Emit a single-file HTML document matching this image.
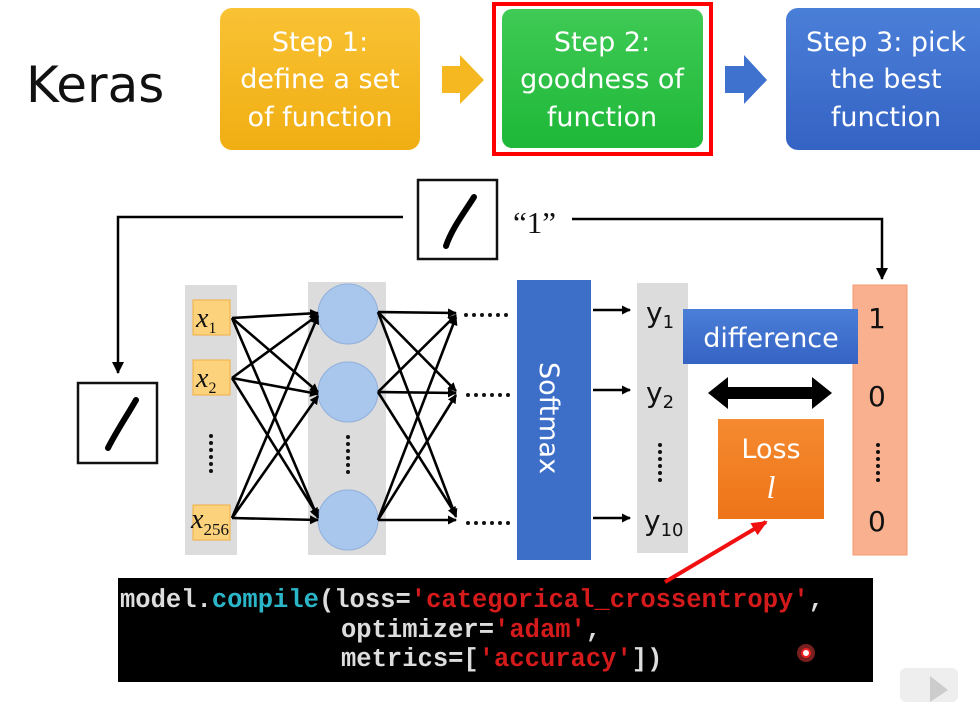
<!DOCTYPE html>
<html><head><meta charset="utf-8"><style>
html,body{margin:0;padding:0;background:#fff;}
svg{display:block;}
.w{font-family:"DejaVu Sans","Liberation Sans",sans-serif;fill:#fff;font-size:27px;text-anchor:middle;}
.m{font-family:"Liberation Mono",monospace;font-size:25.5px;font-weight:bold;}
</style></head><body>
<svg width="980" height="702" viewBox="0 0 980 702" xmlns="http://www.w3.org/2000/svg">
<defs>
<marker id="ah" markerWidth="9" markerHeight="9" refX="8" refY="4.5" orient="auto" markerUnits="userSpaceOnUse">
<path d="M0,0 L9,4.5 L0,9 z" fill="#000"/></marker>
<marker id="ah2" markerWidth="12" markerHeight="12" refX="11" refY="6" orient="auto" markerUnits="userSpaceOnUse">
<path d="M0,0 L12,6 L0,12 z" fill="#000"/></marker>
<marker id="ahr" markerWidth="16" markerHeight="14" refX="14" refY="7" orient="auto" markerUnits="userSpaceOnUse">
<path d="M0,0 L16,7 L0,14 z" fill="#f01010"/></marker>
<linearGradient id="gy" x1="0" y1="0" x2="0" y2="1"><stop offset="0" stop-color="#f9c234"/><stop offset="1" stop-color="#f0ae12"/></linearGradient>
<linearGradient id="gg" x1="0" y1="0" x2="0" y2="1"><stop offset="0" stop-color="#3fca55"/><stop offset="1" stop-color="#1eb838"/></linearGradient>
<linearGradient id="gb" x1="0" y1="0" x2="0" y2="1"><stop offset="0" stop-color="#4a7fd8"/><stop offset="1" stop-color="#3563c4"/></linearGradient>
<linearGradient id="go" x1="0" y1="0" x2="0" y2="1"><stop offset="0" stop-color="#f58a30"/><stop offset="1" stop-color="#ee7418"/></linearGradient>
</defs>

<text x="26" y="102" font-family="DejaVu Sans,Liberation Sans,sans-serif" font-size="50" fill="#111">Keras</text>

<rect x="220" y="8" width="200" height="142" rx="12" fill="url(#gy)"/>
<text class="w" x="320" y="51">Step 1:</text>
<text class="w" x="320" y="88">define a set</text>
<text class="w" x="320" y="126">of function</text>
<path d="M442,66 L460,66 L460,55 L484,80 L460,104 L460,93 L442,93 z" fill="#f5b820"/>

<rect x="494" y="4" width="217" height="150" fill="none" stroke="#f00" stroke-width="4"/>
<rect x="502" y="9" width="201" height="139" rx="10" fill="url(#gg)"/>
<text class="w" x="602" y="51">Step 2:</text>
<text class="w" x="602" y="88">goodness of</text>
<text class="w" x="602" y="126">function</text>
<path d="M725,66 L744,66 L744,55 L767,80 L744,104 L744,93 L725,93 z" fill="#3f72cf"/>

<rect x="786" y="8" width="210" height="142" rx="12" fill="url(#gb)"/>
<text class="w" x="886" y="51">Step 3: pick</text>
<text class="w" x="886" y="88">the best</text>
<text class="w" x="886" y="126">function</text>

<rect x="418" y="180" width="79" height="79" fill="#fff" stroke="#111" stroke-width="2.5"/>
<path d="M474,197 C466,210 452,228 446,246" stroke="#000" stroke-width="6" stroke-linecap="round" fill="none"/>
<text x="513" y="233" font-family="Liberation Serif,serif" font-size="31" fill="#111">“1”</text>
<polyline points="403,217 118,217 118,373" fill="none" stroke="#000" stroke-width="2.5" marker-end="url(#ah2)"/>
<polyline points="572,219 882,219 882,279" fill="none" stroke="#000" stroke-width="2.5" marker-end="url(#ah2)"/>

<rect x="78" y="383" width="79" height="80" fill="#fff" stroke="#111" stroke-width="2.5"/>
<path d="M136,400 C128,414 116,432 108,448" stroke="#000" stroke-width="6" stroke-linecap="round" fill="none"/>

<rect x="185" y="285" width="52" height="270" fill="#dcdcdc"/>
<rect x="308" y="282" width="78" height="273" fill="#dcdcdc"/>
<rect x="637" y="283" width="51" height="270" fill="#dcdcdc"/>
<rect x="853" y="285" width="54" height="270" fill="#f8b08e" stroke="#f29a70" stroke-width="1"/>

<g fill="#fcd27c" stroke="#f0b040" stroke-width="1">
<rect x="193" y="300" width="37" height="35"/>
<rect x="193" y="360" width="37" height="35"/>
<rect x="193" y="505" width="37" height="35"/>
</g>
<g font-family="Liberation Serif,serif" font-style="italic" font-size="28" fill="#111">
<text x="196" y="327">x<tspan font-size="16" font-style="normal" dy="6">1</tspan></text>
<text x="196" y="387">x<tspan font-size="16" font-style="normal" dy="6">2</tspan></text>
<text x="191" y="528">x<tspan font-size="17" font-style="normal" dy="7">256</tspan></text>
</g>
<g fill="#111">
<circle cx="211" cy="436" r="2"/><circle cx="211" cy="443" r="2"/><circle cx="211" cy="450" r="2"/><circle cx="211" cy="457" r="2"/><circle cx="211" cy="464" r="2"/><circle cx="211" cy="471" r="2"/>
<circle cx="348" cy="437" r="2"/><circle cx="348" cy="444" r="2"/><circle cx="348" cy="451" r="2"/><circle cx="348" cy="458" r="2"/><circle cx="348" cy="465" r="2"/><circle cx="348" cy="472" r="2"/>
<circle cx="660" cy="445" r="2"/><circle cx="660" cy="452" r="2"/><circle cx="660" cy="459" r="2"/><circle cx="660" cy="466" r="2"/><circle cx="660" cy="473" r="2"/><circle cx="660" cy="480" r="2"/>
<circle cx="878" cy="445" r="2"/><circle cx="878" cy="452" r="2"/><circle cx="878" cy="459" r="2"/><circle cx="878" cy="466" r="2"/><circle cx="878" cy="473" r="2"/><circle cx="878" cy="480" r="2"/>
<circle cx="466" cy="315" r="2"/><circle cx="474" cy="315" r="2"/><circle cx="482" cy="315" r="2"/><circle cx="490" cy="315" r="2"/><circle cx="498" cy="315" r="2"/><circle cx="506" cy="315" r="2"/>
<circle cx="468" cy="395" r="2"/><circle cx="476" cy="395" r="2"/><circle cx="484" cy="395" r="2"/><circle cx="492" cy="395" r="2"/><circle cx="500" cy="395" r="2"/><circle cx="508" cy="395" r="2"/>
<circle cx="468" cy="523" r="2"/><circle cx="476" cy="523" r="2"/><circle cx="484" cy="523" r="2"/><circle cx="492" cy="523" r="2"/><circle cx="500" cy="523" r="2"/><circle cx="508" cy="523" r="2"/>
</g>

<g fill="#a9c6ec" stroke="#8fb0dc" stroke-width="1">
<circle cx="348" cy="314" r="30"/><circle cx="348" cy="392" r="30"/><circle cx="348" cy="520" r="30"/>
</g>

<g stroke="#000" stroke-width="2.6" marker-end="url(#ah)">
<line x1="232" y1="318" x2="318" y2="313"/><line x1="232" y1="318" x2="318" y2="392"/><line x1="232" y1="318" x2="318" y2="518"/>
<line x1="232" y1="378" x2="318" y2="315"/><line x1="232" y1="378" x2="318" y2="394"/><line x1="232" y1="378" x2="318" y2="516"/>
<line x1="232" y1="518" x2="318" y2="316"/><line x1="232" y1="518" x2="318" y2="396"/><line x1="232" y1="518" x2="318" y2="520"/>
<line x1="378" y1="312" x2="456" y2="313"/><line x1="378" y1="312" x2="456" y2="391"/><line x1="378" y1="312" x2="456" y2="517"/>
<line x1="378" y1="392" x2="456" y2="315"/><line x1="378" y1="392" x2="456" y2="393"/><line x1="378" y1="392" x2="456" y2="515"/>
<line x1="378" y1="520" x2="456" y2="317"/><line x1="378" y1="520" x2="456" y2="395"/><line x1="378" y1="520" x2="456" y2="520"/>
</g>

<rect x="517" y="280" width="74" height="280" fill="#3d6fc9"/>
<text class="w" transform="translate(540,418) rotate(90)" x="0" y="0" font-size="25" text-anchor="middle">Softmax</text>

<g stroke="#000" stroke-width="2.4" marker-end="url(#ah)">
<line x1="593" y1="310" x2="630" y2="310"/><line x1="593" y1="390" x2="630" y2="390"/><line x1="593" y1="518" x2="630" y2="518"/>
</g>
<g font-family="DejaVu Sans,Liberation Sans,sans-serif" font-size="28" fill="#111">
<text x="646" y="322">y<tspan font-size="18" dy="6">1</tspan></text>
<text x="646" y="402">y<tspan font-size="18" dy="6">2</tspan></text>
<text x="644" y="530">y<tspan font-size="18" dy="6">10</tspan></text>
<text x="868" y="328">1</text>
<text x="868" y="406">0</text>
<text x="868" y="531">0</text>
</g>

<rect x="683" y="309" width="175" height="55" fill="url(#gb)"/>
<text class="w" x="771" y="347" font-size="29">difference</text>

<path d="M708,393 L728,377 L728,387 L812,387 L812,377 L832,393 L812,409 L812,399 L728,399 L728,409 z" fill="#000"/>

<rect x="718" y="419" width="106" height="100" fill="url(#go)"/>
<text class="w" x="771" y="458" font-size="29">Loss</text>
<text x="771" y="498" font-family="Liberation Serif,serif" font-style="italic" font-size="32" fill="#fff" text-anchor="middle">l</text>

<rect x="118" y="578" width="755" height="104" fill="#000"/>
<line x1="665" y1="582" x2="766" y2="522" stroke="#f01010" stroke-width="4" marker-end="url(#ahr)"/>
<g class="m" fill="#ddd">
<text x="120" y="607">model.<tspan fill="#2bb5c8">compile</tspan>(loss=<tspan fill="#d41a1a">'categorical_crossentropy'</tspan>,</text>
<text x="341" y="637">optimizer=<tspan fill="#d41a1a">'adam'</tspan>,</text>
<text x="341" y="666">metrics=[<tspan fill="#d41a1a">'accuracy'</tspan>])</text>
</g>
<circle cx="806" cy="653" r="9" fill="#f04040" opacity="0.5"/>
<circle cx="806" cy="653" r="4" fill="#fff" stroke="#f02020" stroke-width="2"/>

<rect x="900" y="668" width="58" height="34" rx="6" fill="#eee"/>
<path d="M930,676 L948,690 L930,702 z" fill="#ccc"/>
</svg>
</body></html>
